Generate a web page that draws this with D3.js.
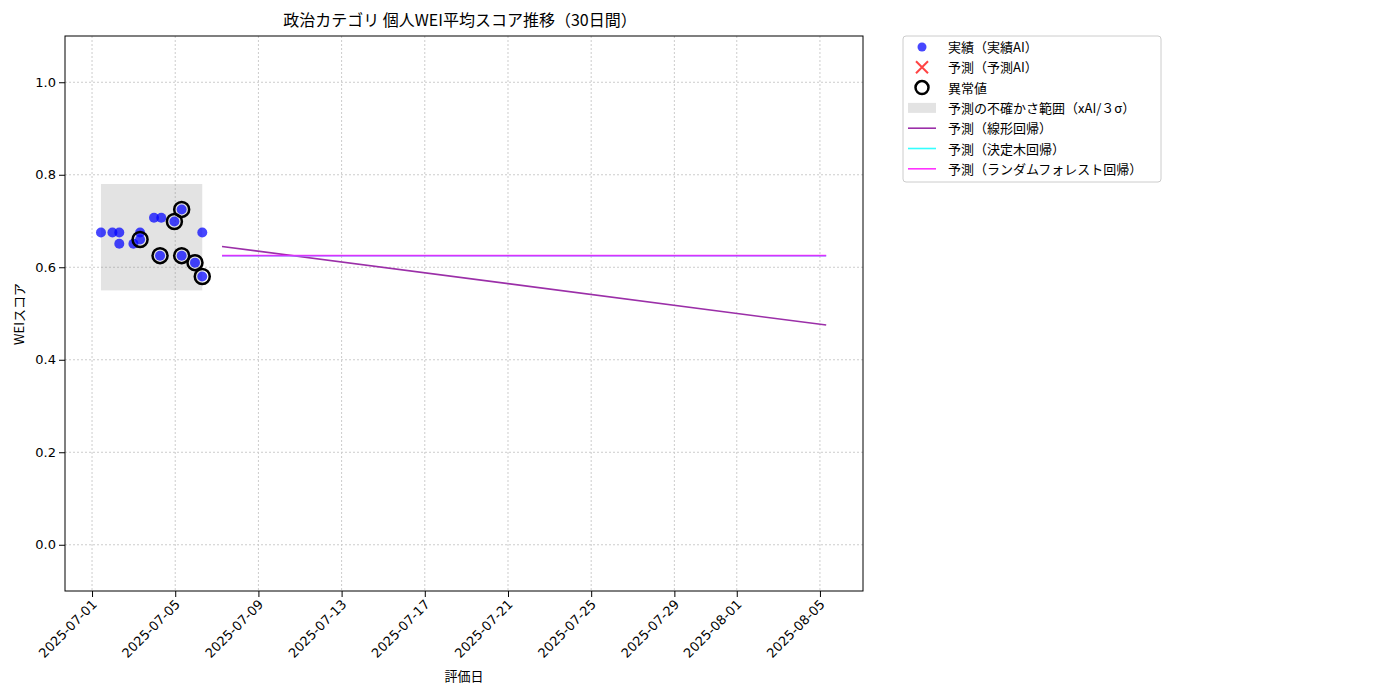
<!DOCTYPE html>
<html><head><meta charset="utf-8">
<script src="https://cdn.jsdelivr.net/npm/d3@7"></script>
<style>body{margin:0;background:#fff;font-family:"Noto Sans CJK JP","DejaVu Sans",sans-serif;}</style>
</head><body><div id="chart"></div>
<script>
// days offset from 2025-07-01 00:00
const actualDays = [0.43, 0.98, 1.31, 1.31, 1.99, 2.31, 2.31, 2.98, 3.33, 3.27, 3.96, 4.31, 4.31, 4.95, 5.30, 5.30];
const actualVals = [0.675, 0.675, 0.675, 0.651, 0.651, 0.675, 0.660, 0.707, 0.707, 0.625, 0.699, 0.725, 0.625, 0.610, 0.675, 0.580];
const outlierIdx = [6, 9, 10, 11, 12, 13, 15];
const bandDays = [0.43, 5.30];
const bandVals = [0.55, 0.78];
const predDays = [6.25, 35.3];
const linearVals = [0.645, 0.475];
const treeVals = [0.625, 0.625];
const forestVals = [0.625, 0.625];
const tickLabels = ['2025-07-01','2025-07-05','2025-07-09','2025-07-13','2025-07-17','2025-07-21','2025-07-25','2025-07-29','2025-08-01','2025-08-05'];
const yTicks = [0.0, 0.2, 0.4, 0.6, 0.8, 1.0];

const base = Date.UTC(2025, 6, 1);
const day = 864e5;
const toDate = d => new Date(base + d * day);

const svg = d3.select('#chart').append('svg').attr('width', 1400).attr('height', 700);
const L = 65, R = 863, T = 36, B = 591;
const x = d3.scaleUtc().domain([toDate(-1.3), toDate(37.07)]).range([L, R]);
const y = d3.scaleLinear().domain([-0.1, 1.1]).range([B, T]);

// grid
svg.append('g').selectAll('line').data(tickLabels).enter().append('line')
  .attr('x1', d => x(new Date(d))).attr('x2', d => x(new Date(d)))
  .attr('y1', T).attr('y2', B).attr('stroke', '#ccc').attr('stroke-dasharray', '2,2');
svg.append('g').selectAll('line').data(yTicks).enter().append('line')
  .attr('x1', L).attr('x2', R).attr('y1', d => y(d)).attr('y2', d => y(d))
  .attr('stroke', '#ccc').attr('stroke-dasharray', '2,2');

// band
svg.append('rect').attr('x', x(toDate(bandDays[0]))).attr('width', x(toDate(bandDays[1])) - x(toDate(bandDays[0])))
  .attr('y', y(bandVals[1])).attr('height', y(bandVals[0]) - y(bandVals[1]))
  .attr('fill', '#808080').attr('opacity', 0.22);

// lines
const line = vals => d3.line().x((d, i) => x(toDate(predDays[i]))).y(d => y(d))(vals);
svg.append('path').attr('d', line(linearVals)).attr('stroke', '#9b2fa8').attr('stroke-width', 1.6).attr('fill', 'none');
svg.append('path').attr('d', line(treeVals)).attr('stroke', '#33ffff').attr('stroke-width', 1.6).attr('fill', 'none');
svg.append('path').attr('d', line(forestVals)).attr('stroke', '#ff00ff').attr('stroke-opacity', 0.8).attr('stroke-width', 1.8).attr('fill', 'none');

// points
svg.append('g').selectAll('circle').data(actualVals).enter().append('circle')
  .attr('cx', (d, i) => x(toDate(actualDays[i]))).attr('cy', d => y(d)).attr('r', 5)
  .attr('fill', '#0000ff').attr('fill-opacity', 0.72);
svg.append('g').selectAll('circle').data(outlierIdx).enter().append('circle')
  .attr('cx', i => x(toDate(actualDays[i]))).attr('cy', i => y(actualVals[i])).attr('r', 7.5)
  .attr('fill', 'none').attr('stroke', '#000').attr('stroke-width', 2.5);

// frame
svg.append('rect').attr('x', L).attr('y', T).attr('width', R - L).attr('height', B - T)
  .attr('fill', 'none').attr('stroke', '#000');

// axes
const xa = svg.append('g').attr('transform', `translate(0,${B})`)
  .call(d3.axisBottom(x).tickValues(tickLabels.map(d => new Date(d))).tickFormat(d3.utcFormat('%Y-%m-%d')).tickSizeOuter(0));
xa.select('.domain').remove();
xa.selectAll('text').attr('font-size', 13).attr('fill', '#000').attr('text-anchor', 'end')
  .attr('x', 0).attr('y', 0).attr('dy', '0.35em')
  .attr('transform', 'translate(2,11) rotate(-45)')
  .style('font-family', '"DejaVu Sans",sans-serif');
const ya = svg.append('g').attr('transform', `translate(${L},0)`)
  .call(d3.axisLeft(y).tickValues(yTicks).tickFormat(d3.format('.1f')).tickSizeOuter(0));
ya.select('.domain').remove();
ya.selectAll('text').attr('font-size', 13).attr('fill', '#000').style('font-family', '"DejaVu Sans",sans-serif');

svg.append('text').attr('x', 460).attr('y', 26).attr('text-anchor', 'middle').attr('font-size', 16)
  .text('政治カテゴリ 個人WEI平均スコア推移（30日間）');
svg.append('text').attr('x', 464).attr('y', 681).attr('text-anchor', 'middle').attr('font-size', 13).text('評価日');
svg.append('text').attr('transform', 'translate(24,314) rotate(-90)').attr('text-anchor', 'middle').attr('font-size', 13).text('WEIスコア');

// legend
const lg = svg.append('g').attr('transform', 'translate(903,36)');
lg.append('rect').attr('width', 258).attr('height', 146).attr('rx', 3).attr('fill', '#fff').attr('stroke', '#ccc');
const items = ['実績（実績AI）', '予測（予測AI）', '異常値', '予測の不確かさ範囲（xAI/３σ）', '予測（線形回帰）', '予測（決定木回帰）', '予測（ランダムフォレスト回帰）'];
items.forEach((t, i) => {
  const cy = 11 + i * 20.3;
  lg.append('text').attr('x', 45).attr('y', cy + 5).attr('font-size', 13).text(t);
  if (i === 0) lg.append('circle').attr('cx', 19).attr('cy', cy).attr('r', 4.5).attr('fill', '#0000ff').attr('fill-opacity', 0.72);
  if (i === 1) { lg.append('path').attr('d', `M13,${cy-6}L25,${cy+6}M13,${cy+6}L25,${cy-6}`).attr('stroke', '#ff4444').attr('stroke-width', 2); }
  if (i === 2) lg.append('circle').attr('cx', 19).attr('cy', cy).attr('r', 6.5).attr('fill', 'none').attr('stroke', '#000').attr('stroke-width', 2.5);
  if (i === 3) lg.append('rect').attr('x', 5).attr('y', cy - 5).attr('width', 28).attr('height', 10).attr('fill', '#808080').attr('opacity', 0.22);
  const col = ['#9b2fa8', '#33ffff', '#ff33ff'][i - 4];
  if (i >= 4) lg.append('line').attr('x1', 5).attr('x2', 33).attr('y1', cy).attr('y2', cy).attr('stroke', col).attr('stroke-width', 1.6);
});
</script></body></html>
